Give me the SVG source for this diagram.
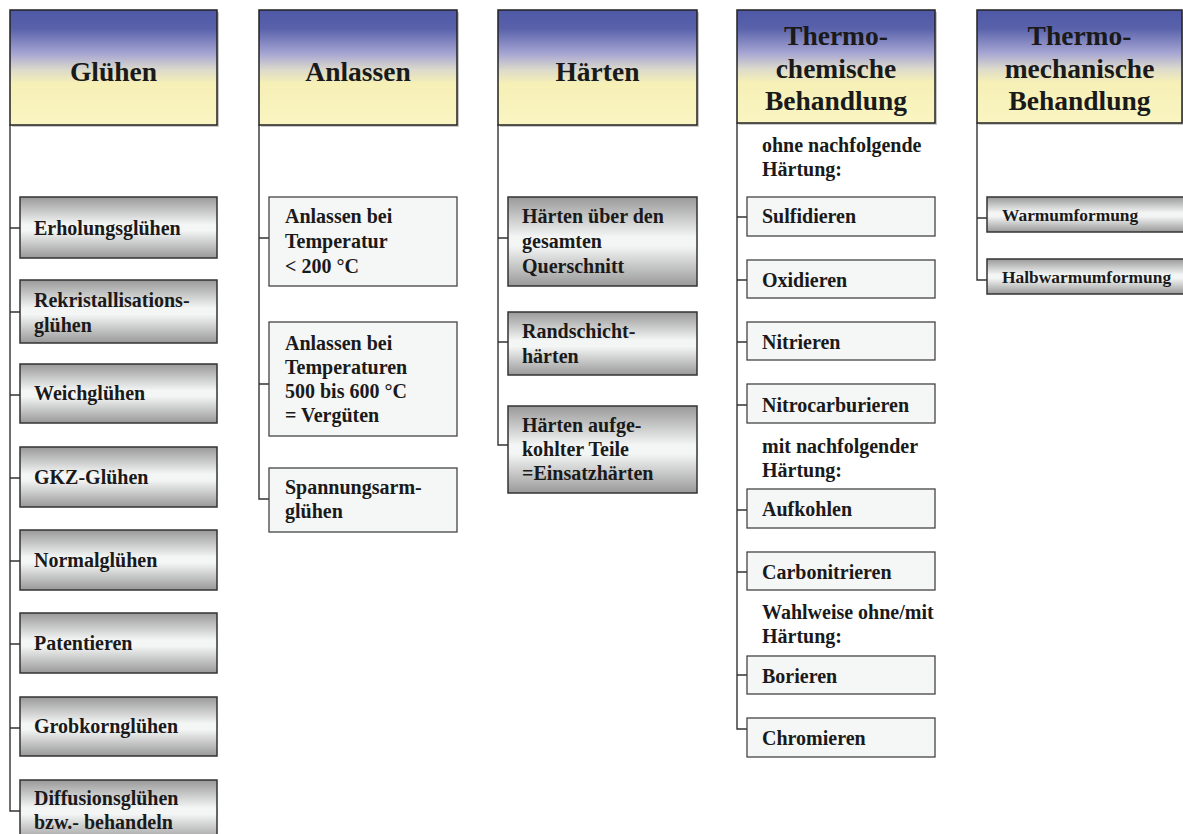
<svg xmlns="http://www.w3.org/2000/svg" width="1183" height="834" viewBox="0 0 1183 834">
<defs>
<linearGradient id="hdr" x1="0" y1="0" x2="0" y2="1">
<stop offset="0" stop-color="#4f58a5"/>
<stop offset="0.16" stop-color="#5861aa"/>
<stop offset="0.38" stop-color="#a6a5d3"/>
<stop offset="0.52" stop-color="#dcdacb"/>
<stop offset="0.64" stop-color="#f6f0b6"/>
<stop offset="1" stop-color="#faf5c2"/>
</linearGradient>
<linearGradient id="gray" x1="0" y1="0" x2="0" y2="1">
<stop offset="0" stop-color="#999999"/>
<stop offset="0.45" stop-color="#f4f5f5"/>
<stop offset="0.55" stop-color="#f4f5f5"/>
<stop offset="1" stop-color="#999999"/>
</linearGradient>
</defs>
<style>
.hdr{fill:url(#hdr);stroke:#222;stroke-width:1.5}
.g{fill:url(#gray);stroke:#333;stroke-width:1.5}
.w{fill:#f5f6f6;stroke:#444;stroke-width:1.3}
.sh{fill:#c8c8c8}
text{font-family:"Liberation Serif","Times New Roman",serif;font-weight:bold;fill:#1a1a1a}
.ht{font-size:27.5px;text-anchor:middle}
.ct{font-size:20px}
.st{font-size:17.4px}
.conn{fill:none;stroke:#333;stroke-width:1.4}
</style>
<rect width="1183" height="834" fill="#ffffff"/>

<g id="connectors">
<path class="conn" d="M10,125 V811 H20 M10,228 H20 M10,312 H20 M10,395 H20 M10,478 H20 M10,561 H20 M10,644 H20 M10,728 H20"/>
<path class="conn" d="M259,125 V499 H269 M259,238 H269 M259,384 H269"/>
<path class="conn" d="M498,125 V445 H508 M498,238 H508 M498,342 H508"/>
<path class="conn" d="M737,123 V729 H747 M737,217 H747 M737,280 H747 M737,342 H747 M737,405 H747 M737,510 H747 M737,572 H747 M737,675 H747"/>
<path class="conn" d="M977,123 V280 H987 M977,218 H987"/>
</g>

<g id="h-gluehen">
<rect class="sh" x="12" y="12" width="207" height="115"/>
<rect class="hdr" x="10" y="10" width="207" height="115"/>
<text class="ht" x="113.5" y="81">Glühen</text>
</g>
<g id="h-anlassen">
<rect class="sh" x="261" y="12" width="198" height="115"/>
<rect class="hdr" x="259" y="10" width="198" height="115"/>
<text class="ht" x="358" y="81">Anlassen</text>
</g>
<g id="h-haerten">
<rect class="sh" x="500" y="12" width="199" height="115"/>
<rect class="hdr" x="498" y="10" width="199" height="115"/>
<text class="ht" x="597.5" y="81">Härten</text>
</g>
<g id="h-thermochem">
<rect class="sh" x="739" y="12" width="198" height="113"/>
<rect class="hdr" x="737" y="10" width="198" height="113"/>
<text class="ht" x="836" y="45">Thermo-</text>
<text class="ht" x="836" y="78">chemische</text>
<text class="ht" x="836" y="110">Behandlung</text>
</g>
<g id="h-thermomech">
<rect class="sh" x="979" y="12" width="206" height="113"/>
<rect class="hdr" x="977" y="10" width="205" height="113"/>
<text class="ht" x="1079.5" y="45">Thermo-</text>
<text class="ht" x="1079.5" y="78">mechanische</text>
<text class="ht" x="1079.5" y="110">Behandlung</text>
</g>

<g id="n-erholung"><rect class="g" x="20" y="197" width="197" height="61"/><text class="ct" x="34" y="235">Erholungsglühen</text></g>
<g id="n-rekristall"><rect class="g" x="20" y="280" width="197" height="63"/><text class="ct" x="34" y="307">Rekristallisations-</text><text class="ct" x="34" y="332">glühen</text></g>
<g id="n-weich"><rect class="g" x="20" y="364" width="197" height="59"/><text class="ct" x="34" y="400">Weichglühen</text></g>
<g id="n-gkz"><rect class="g" x="20" y="447" width="197" height="60"/><text class="ct" x="34" y="484">GKZ-Glühen</text></g>
<g id="n-normal"><rect class="g" x="20" y="530" width="197" height="60"/><text class="ct" x="34" y="567">Normalglühen</text></g>
<g id="n-patent"><rect class="g" x="20" y="613" width="197" height="60"/><text class="ct" x="34" y="650">Patentieren</text></g>
<g id="n-grobkorn"><rect class="g" x="20" y="697" width="197" height="59"/><text class="ct" x="34" y="733">Grobkornglühen</text></g>
<g id="n-diffusion"><rect class="g" x="20" y="780" width="197" height="62"/><text class="ct" x="34" y="805">Diffusionsglühen</text><text class="ct" x="34" y="829">bzw.- behandeln</text></g>

<g id="n-anl200"><rect class="w" x="269" y="197" width="188" height="89"/><text class="ct" x="285" y="223">Anlassen bei</text><text class="ct" x="285" y="248">Temperatur</text><text class="ct" x="285" y="273">&lt; 200 °C</text></g>
<g id="n-anl500"><rect class="w" x="269" y="322" width="188" height="114"/><text class="ct" x="285" y="350">Anlassen bei</text><text class="ct" x="285" y="374">Temperaturen</text><text class="ct" x="285" y="398">500 bis 600 °C</text><text class="ct" x="285" y="422">= Vergüten</text></g>
<g id="n-spannung"><rect class="w" x="269" y="468" width="188" height="64"/><text class="ct" x="285" y="494">Spannungsarm-</text><text class="ct" x="285" y="518">glühen</text></g>

<g id="n-h-gesamt"><rect class="g" x="508" y="197" width="189" height="89"/><text class="ct" x="522" y="223">Härten über den</text><text class="ct" x="522" y="248">gesamten</text><text class="ct" x="522" y="273">Querschnitt</text></g>
<g id="n-h-rand"><rect class="g" x="508" y="312" width="189" height="63"/><text class="ct" x="522" y="338">Randschicht-</text><text class="ct" x="522" y="363">härten</text></g>
<g id="n-h-einsatz"><rect class="g" x="508" y="406" width="189" height="87"/><text class="ct" x="522" y="432">Härten aufge-</text><text class="ct" x="522" y="456">kohlter Teile</text><text class="ct" x="522" y="480">=Einsatzhärten</text></g>

<g id="l-ohne"><text class="ct" x="762" y="152">ohne nachfolgende</text><text class="ct" x="762" y="176">Härtung:</text></g>
<g id="n-sulfid"><rect class="w" x="747" y="197" width="188" height="39"/><text class="ct" x="762" y="223">Sulfidieren</text></g>
<g id="n-oxid"><rect class="w" x="747" y="260" width="188" height="38"/><text class="ct" x="762" y="287">Oxidieren</text></g>
<g id="n-nitrier"><rect class="w" x="747" y="322" width="188" height="38"/><text class="ct" x="762" y="349">Nitrieren</text></g>
<g id="n-nitrocarb"><rect class="w" x="747" y="384" width="188" height="39"/><text class="ct" x="762" y="412">Nitrocarburieren</text></g>
<g id="l-mit"><text class="ct" x="762" y="453">mit nachfolgender</text><text class="ct" x="762" y="477">Härtung:</text></g>
<g id="n-aufkohlen"><rect class="w" x="747" y="489" width="188" height="39"/><text class="ct" x="762" y="516">Aufkohlen</text></g>
<g id="n-carbonitr"><rect class="w" x="747" y="552" width="188" height="38"/><text class="ct" x="762" y="579">Carbonitrieren</text></g>
<g id="l-wahl"><text class="ct" x="762" y="619">Wahlweise ohne/mit</text><text class="ct" x="762" y="643">Härtung:</text></g>
<g id="n-borier"><rect class="w" x="747" y="656" width="188" height="38"/><text class="ct" x="762" y="683">Borieren</text></g>
<g id="n-chrom"><rect class="w" x="747" y="718" width="188" height="39"/><text class="ct" x="762" y="745">Chromieren</text></g>

<g id="n-warm"><rect class="g" x="987" y="197" width="200" height="35"/><text class="st" x="1002" y="221">Warmumformung</text></g>
<g id="n-halbwarm"><rect class="g" x="987" y="259" width="200" height="35"/><text class="st" x="1002" y="283">Halbwarmumformung</text></g>
</svg>
